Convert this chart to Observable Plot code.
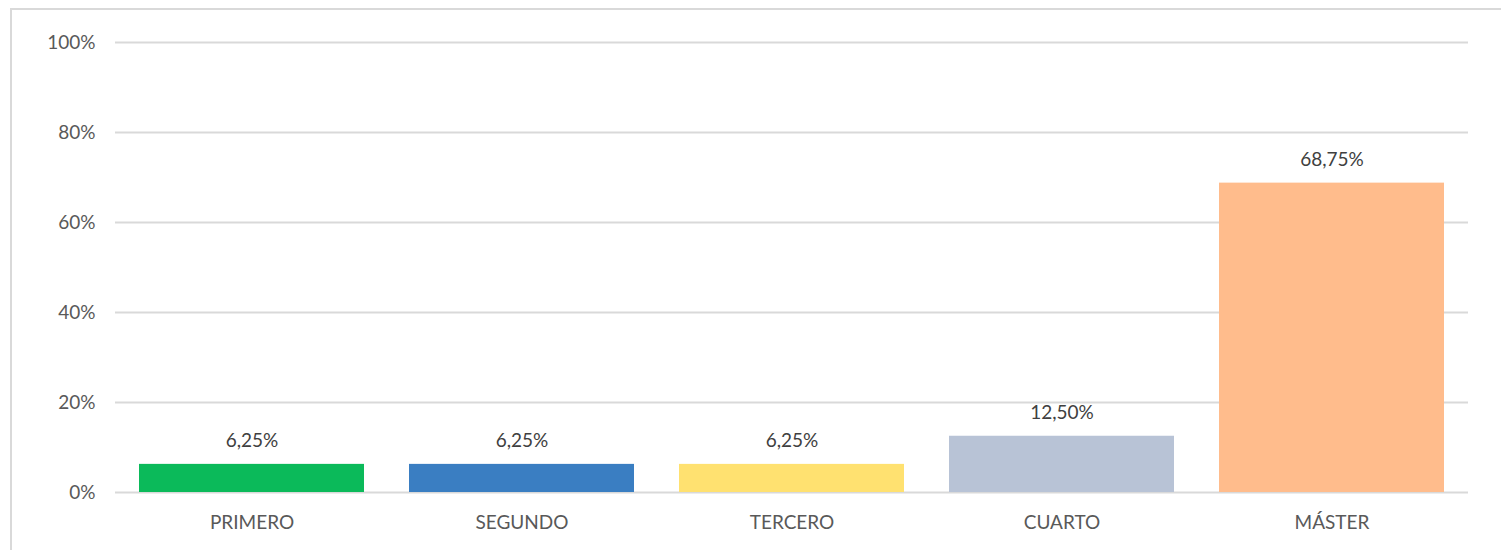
<!DOCTYPE html>
<html>
<head>
<meta charset="utf-8">
<script src="https://cdn.jsdelivr.net/npm/d3@7"></script>
<script src="https://cdn.jsdelivr.net/npm/@observablehq/plot@0.6"></script>
<style>
  html, body { margin: 0; padding: 0; background: #fff; }
  #wrap { position: relative; width: 1501px; height: 550px; overflow: hidden; }
  #border { position: absolute; left: 10px; top: 8px; width: 1600px; height: 700px;
            border-top: 2px solid #d9d9d9; border-left: 2px solid #d9d9d9; box-sizing: border-box; }
  #chart { position: absolute; left: 0; top: 0; }
</style>
</head>
<body>
<div id="wrap"><div id="border"></div><div id="chart"></div></div>
<script>
const categories = ["PRIMERO", "SEGUNDO", "TERCERO", "CUARTO", "MÁSTER"];
const values = [6.25, 6.25, 6.25, 12.5, 68.75];
const valueLabels = ["6,25%", "6,25%", "6,25%", "12,50%", "68,75%"];
const colors = ["#0bba5a", "#3a7ec2", "#ffe170", "#b8c3d6", "#ffbc8c"];
const yTicks = [0, 20, 40, 60, 80, 100];
const yTickLabels = ["0%", "20%", "40%", "60%", "80%", "100%"];

const data = categories.map((c, i) => ({cat: c, value: values[i], label: valueLabels[i], color: colors[i]}));

const chart = Plot.plot({
  width: 1501,
  height: 550,
  marginLeft: 115,
  marginRight: 33,
  marginTop: 42,
  marginBottom: 58,
  style: {fontFamily: "Lato, 'Open Sans', sans-serif", fontSize: "19px", color: "#595959", background: "transparent"},
  x: {domain: categories, paddingInner: 0.166, paddingOuter: 0.083, label: null},
  y: {domain: [0, 100], label: null},
  marks: [
    Plot.ruleY(yTicks, {stroke: "#d9d9d9", strokeWidth: 2}),
    Plot.axisY({ticks: yTicks, tickFormat: (d) => yTickLabels[yTicks.indexOf(d)], tickSize: 0, tickPadding: 20, fill: "#595959", label: null}),
    Plot.axisX({tickSize: 0, tickPadding: 23, fill: "#595959", label: null}),
    Plot.barY(data, {x: "cat", y: "value", fill: "color"}),
    Plot.text(data, {x: "cat", y: "value", text: "label", lineAnchor: "bottom", dy: -17, fill: "#404040", fontSize: 19})
  ]
});
document.getElementById("chart").appendChild(chart);
</script>
</body>
</html>
